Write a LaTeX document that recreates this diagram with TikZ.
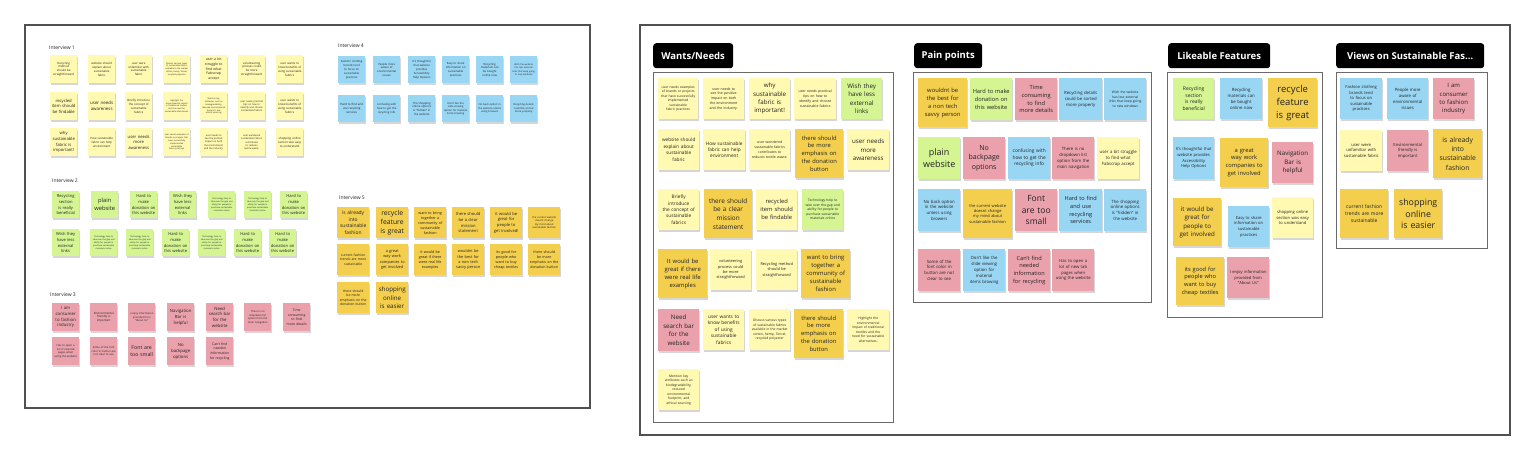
\documentclass[tikz,border=0pt]{standalone}
\usepackage{fontspec}
\setmainfont{Open Sans}
\usetikzlibrary{shadows}
\hyphenpenalty=10000
\exhyphenpenalty=10000

\definecolor{ylight}{HTML}{FFF9B1}
\definecolor{ydark}{HTML}{F4CF4E}
\definecolor{gleaf}{HTML}{D5F593}
\definecolor{bsky}{HTML}{98D6F4}
\definecolor{rpink}{HTML}{EAA1AB}
\definecolor{ink}{HTML}{222222}
\definecolor{frame}{HTML}{505050}
\definecolor{boxline}{HTML}{6A6A6A}

\begin{document}
\begin{tikzpicture}[x=1pt, y=-1pt,
    note/.style={anchor=north west, inner sep=0pt, align=center, text=ink,
      general shadow={fill=black, opacity=0.16, shadow xshift=0.5pt, shadow yshift=-2pt}},
    sz/.style={font=\fontsize{#1}{#1}\linespread{1.36}\selectfont},
    inote/.style={note, minimum width=27, minimum height=28, text width=24},
    bignote/.style={note, minimum width=32, minimum height=31, text width=29},
    board/.style={draw=frame, line width=1.6pt},
    groupbox/.style={draw=boxline, line width=0.9pt},
    header/.style={anchor=north west, fill=black, rounded corners=3pt, minimum height=25,
      inner xsep=4pt, text=white, font=\bfseries\fontsize{9.5}{11}\selectfont},
    ivtitle/.style={anchor=west, inner sep=0pt, text=ink, font=\fontsize{5}{6}\selectfont}
]
\useasboundingbox[fill=white] (0,0) rectangle (1528,458);

% boards
\draw[board] (25,25) rectangle (590,408);
\draw[board] (640,25) rectangle (1510,435);

% interview titles
\node[ivtitle] (t-i1) at (49,48) {Interview 1};
\node[ivtitle] (t-i4) at (338,46) {Interview 4};
\node[ivtitle] (t-i2) at (52,181) {Interview 2};
\node[ivtitle] (t-i5) at (339,198) {Interview 5};
\node[ivtitle] (t-i3) at (50,295) {Interview 3};

% Interview 1
\foreach \x/\y/\s/\t [count=\i] in {
  50/55/2.9/{Recycling method should be straightforward},
  88/55/2.9/{website should explain about sustainable fabric},
  125/55/2.9/{user were unfamiliar with sustainable fabric},
  163/55/2.1/{Discuss various types of sustainable fabrics available in the market cotton, hemp, Tencel, recycled polyester},
  200/55/3.5/{user a bit struggle to find what Fabscrap accept},
  238/55/2.9/{volunteering process could be more straightforward},
  276/55/2.9/{user wants to know benefits of using sustainable fabrics},
  50/92/4.2/{recycled item should be findable},
  88/92/4.4/{user needs awareness},
  125/92/2.9/{Briefly introduce the concept of sustainable fabrics},
  163/92/2.1/{Highlight the environmental impact of traditional textiles and the need for sustainable alternatives.},
  200/92/2.1/{Mention key attributes such as biodegradability, reduced environmental footprint, and ethical sourcing},
  238/92/2.4/{user needs practical tips on how to identify and choose sustainable fabrics},
  276/92/2.9/{user wants to know benefits of using sustainable fabrics},
  50/128/4.2/{why sustainable fabric is important!},
  88/128/2.9/{How sustainable fabric can help environment},
  125/128/4.2/{user needs more awareness},
  163/128/2.1/{user needs examples of brands or projects that have successfully implemented sustainable fabric practices},
  200/128/2.4/{user needs to see the positive impact on both the environment and the industry.},
  238/128/2.4/{user wondered sustainable fabrics contributes to reduces textile waste.},
  276/128/2.9/{shopping online section was easy to understand}
} \node[inote, fill=ylight, sz=\s] (ia-\i) at (\x,\y) {\t};

% Interview 4
\foreach \x/\y/\s/\t [count=\i] in {
  338/56/2.8/{Fashion clothing brands tend to focus on sustainable practices},
  373/56/2.8/{People more aware of environmental issues},
  408/56/2.8/{It's thoughtful that website provides Accessibility Help Options},
  442/56/2.8/{Easy to share information on sustainable practices},
  476/56/2.8/{Recycling materials can be bought online now},
  510/56/2.3/{Wish the website has less external links that keep going to new windows},
  338/95/2.9/{Hard to find and use recycling services},
  373/95/2.8/{confusing with how to get the recycling info},
  408/95/2.8/{The shopping online options is "hidden" in the website},
  442/95/2.6/{Don't like the slide viewing option for material items browing},
  476/95/2.6/{No back option in the website unless using browers},
  510/95/2.6/{Recycling details could be sorted more properly}
} \node[inote, fill=bsky, minimum height=27, sz=\s] (id-\i) at (\x,\y) {\t};

% Interview 2
\foreach \x/\y/\s/\t [count=\i] in {
  52/191/4.1/{Recycling section is really beneficial},
  91/191/5.8/{plain website},
  130/191/4.1/{Hard to make donation on this website},
  169/191/4.1/{Wish they have less external links},
  208/191/2.1/{Technology help to take over the gap and ability for people to purchase sustainable materials online},
  244/191/2.1/{Technology help to take over the gap and ability for people to purchase sustainable materials online},
  280/191/4.1/{Hard to make donation on this website},
  52/229/4.1/{Wish they have less external links},
  90/229/2.1/{Technology help to take over the gap and ability for people to purchase sustainable materials online},
  126/229/2.1/{Technology help to take over the gap and ability for people to purchase sustainable materials online},
  162/229/4.1/{Hard to make donation on this website},
  198/229/2.1/{Technology help to take over the gap and ability for people to purchase sustainable materials online},
  234/229/4.1/{Hard to make donation on this website},
  269/229/4.1/{Hard to make donation on this website}
} \node[inote, fill=gleaf, minimum height=27, sz=\s] (ib-\i) at (\x,\y) {\t};

% Interview 3
\foreach \x/\y/\s/\t [count=\i] in {
  52/303/4.3/{I am consumer to fashion industry},
  90/303/2.9/{Environmental friendly is important},
  128/303/2.6/{I enjoy information provided from "About Us"},
  167/303/4.3/{Navigation Bar is helpful},
  206/303/4.3/{Need search bar for the website},
  244/303/2.6/{There is no dropdown list option from the main navigation},
  283/303/3.4/{Time consuming to find more details},
  52/337/2.7/{Has to open a lot of new tab pages when using the website},
  90/337/2.7/{Some of the font color in button are not clear to see},
  128/337/5.2/{Font are too small},
  167/337/4.3/{No backpage options},
  206/337/3.4/{Can't find needed information for recycling}
} \node[inote, fill=rpink, sz=\s] (ic-\i) at (\x,\y) {\t};

% Interview 5
\foreach \x/\y/\s/\t [count=\i] in {
  337/207/4.9/{is already into sustainable fashion},
  376/207/6.8/{recycle feature is great},
  414/207/3.7/{want to bring together a community of sustainable fashion},
  452/207/4.1/{there should be a clear mission statement},
  490/207/4.1/{it would be great for people to get involved!},
  528/207/2.6/{the current website doesnt change my mind about sustainable fashion},
  337/244/3.4/{current fashion trends are more sustainable},
  376/244/3.9/{a great way work companies to get involved},
  414/244/3.7/{it would be great if there were real life examples},
  452/244/3.9/{wouldnt be the best for a non tech savvy person},
  490/244/3.7/{its good for people who want to buy cheap textiles},
  528/244/3.6/{there should be more emphasis on the donation button},
  337/282/3.4/{there should be more emphasis on the donation button},
  376/282/6.2/{shopping online is easier}
} \node[bignote, fill=ydark, sz=\s] (ie-\i) at (\x,\y) {\t};

% cluster headers and boxes
\node[header, minimum width=80] (h-wants) at (653,43) {Wants/Needs};
\node[header, minimum width=68] (h-pain) at (914,43) {Pain points};
\node[header, minimum width=102] (h-like) at (1168,43) {Likeable Features};
\node[header, minimum width=148] (h-views) at (1336,43) {Views on Sustainable Fas\ldots};
\draw[groupbox] (653,72) rectangle (893,422);
\draw[groupbox] (913,72) rectangle (1151,302);
\draw[groupbox] (1167,72) rectangle (1322,317);
\draw[groupbox] (1336,72) rectangle (1487,248);

% Wants/Needs
\foreach \x/\y/\w/\h/\c/\s/\t [count=\i] in {
  658/78/40/41/ylight/3.3/{user needs examples of brands or projects that have successfully implemented sustainable fabric practices},
  703/78/41/41/ylight/3.5/{user needs to see the positive impact on both the environment and the industry.},
  749/78/41/41/ylight/6.2/{why sustainable fabric is important!},
  794/78/42/41/ylight/3.5/{user needs practical tips on how to identify and choose sustainable fabrics},
  841/78/41/41/gleaf/6.2/{Wish they have less external links},
  658/129/41/41/ylight/4.7/{website should explain about sustainable fabric},
  703/129/42/41/ylight/4.7/{How sustainable fabric can help environment},
  749/129/41/41/ylight/3.5/{user wondered sustainable fabrics contributes to reduces textile waste.},
  795/129/48/49/ydark/5.8/{there should be more emphasis on the donation button},
  847/129/42/41/ylight/6.2/{user needs more awareness},
  658/189/41/41/ylight/4.7/{Briefly introduce the concept of sustainable fabrics},
  704/189/48/49/ydark/6.4/{there should be a clear mission statement},
  756/189/41/41/ylight/5.8/{recycled item should be findable},
  802/189/41/41/gleaf/3.3/{Technology help to take over the gap and ability for people to purchase sustainable materials online},
  658/249/49/49/ydark/5.9/{It would be great if there were real life examples},
  710/249/41/41/ylight/3.9/{volunteering process could be more straightforward},
  756/249/41/41/ylight/3.9/{Recycling method should be straightforward},
  801/249/49/49/ydark/5.9/{want to bring together a community of sustainable fashion},
  658/309/41/42/rpink/6.2/{Need search bar for the website},
  703/309/41/41/ylight/4.8/{user wants to know benefits of using sustainable fabrics},
  749/309/41/41/ylight/3.3/{Discuss various types of sustainable fabrics available in the market cotton, hemp, Tencel, recycled polyester},
  794/309/49/49/ydark/5.8/{there should be more emphasis on the donation button},
  847/309/42/41/ylight/3.3/{Highlight the environmental impact of traditional textiles and the need for sustainable alternatives.},
  658/369/41/41/ylight/3.3/{Mention key attributes such as biodegradability, reduced environmental footprint, and ethical sourcing}
} {
  \pgfmathsetmacro\tw{\w-5}
  \node[note, fill=\c, sz=\s, minimum width=\w, minimum height=\h, text width=\tw pt] (wn-\i) at (\x,\y) {\t};
}

% Pain points
\foreach \x/\y/\w/\h/\c/\s/\t [count=\i] in {
  918/78/49/49/ydark/5.8/{wouldnt be the best for a non tech savvy person},
  970/78/42/42/gleaf/5.7/{Hard to make donation on this website},
  1015/78/42/42/rpink/5.7/{Time consuming to find more details},
  1059/78/43/42/bsky/4.3/{Recycling details could be sorted more properly},
  1104/78/42/42/bsky/3.3/{Wish the website has less external links that keep going to new windows},
  918/137/42/42/gleaf/9/{plain website},
  963/137/42/42/rpink/7/{No backpage options},
  1008/137/42/42/bsky/4.8/{confusing with how to get the recycling info},
  1052/137/42/42/rpink/4.3/{There is no dropdown list option from the main navigation},
  1097/137/42/42/ylight/4.3/{user a bit struggle to find what Fabscrap accept},
  918/189/42/42/bsky/4.3/{No back option in the website unless using browers},
  963/189/49/49/ydark/4/{the current website doesnt change my mind about sustainable fashion},
  1015/189/42/42/rpink/8.5/{Font are too small},
  1059/189/43/42/bsky/5.6/{Hard to find and use recycling services},
  1104/189/42/42/bsky/4.3/{The shopping online options is "hidden" in the website},
  918/249/42/42/rpink/4.3/{Some of the font color in button are not clear to see},
  963/249/42/42/bsky/4.3/{Don't like the slide viewing option for material items browing},
  1008/249/42/42/rpink/5.6/{Can't find needed information for recycling},
  1052/249/42/42/rpink/4.2/{Has to open a lot of new tab pages when using the website}
} {
  \pgfmathsetmacro\tw{\w-5}
  \node[note, fill=\c, sz=\s, minimum width=\w, minimum height=\h, text width=\tw pt] (pp-\i) at (\x,\y) {\t};
}

% Likeable Features
\foreach \x/\y/\w/\h/\c/\s/\t [count=\i] in {
  1173/78/41/41/gleaf/5/{Recycling section is really beneficial},
  1220/78/42/41/bsky/4.3/{Recycling materials can be bought online now},
  1268/78/49/49/ydark/9.5/{recycle feature is great},
  1173/137/41/42/bsky/4.1/{It's thoughtful that website provides Accessibility Help Options},
  1220/138/48/49/ydark/5.8/{a great way work companies to get involved},
  1272/142/41/41/rpink/6.2/{Navigation Bar is helpful},
  1173/198/48/48/ydark/6.2/{it would be great for people to get involved},
  1228/206/41/41/bsky/4.1/{Easy to share information on sustainable practices},
  1272/197/41/41/ylight/4.1/{shopping online section was easy to understand},
  1176/257/48/48/ydark/5.7/{its good for people who want to buy cheap textiles},
  1227/257/42/41/rpink/4.1/{I enjoy information provided from "About Us"}
} {
  \pgfmathsetmacro\tw{\w-5}
  \node[note, fill=\c, sz=\s, minimum width=\w, minimum height=\h, text width=\tw pt] (lf-\i) at (\x,\y) {\t};
}

% Views on Sustainable Fashion
\foreach \x/\y/\w/\h/\c/\s/\t [count=\i] in {
  1340/78/42/41/bsky/4.1/{Fashion clothing brands tend to focus on sustainable practices},
  1387/78/41/41/bsky/4.3/{People more aware of environmental issues},
  1433/78/41/41/rpink/6/{I am consumer to fashion industry},
  1340/130/42/41/ylight/4.2/{user were unfamiliar with sustainable fabric},
  1387/130/41/41/rpink/4.2/{Environmental friendly is important},
  1433/129/49/49/ydark/6.8/{is already into sustainable fashion},
  1340/189/48/49/ydark/5/{current fashion trends are more sustainable},
  1394/189/48/49/ydark/8.8/{shopping online is easier}
} {
  \pgfmathsetmacro\tw{\w-5}
  \node[note, fill=\c, sz=\s, minimum width=\w, minimum height=\h, text width=\tw pt] (vs-\i) at (\x,\y) {\t};
}
\end{tikzpicture}
\end{document}
